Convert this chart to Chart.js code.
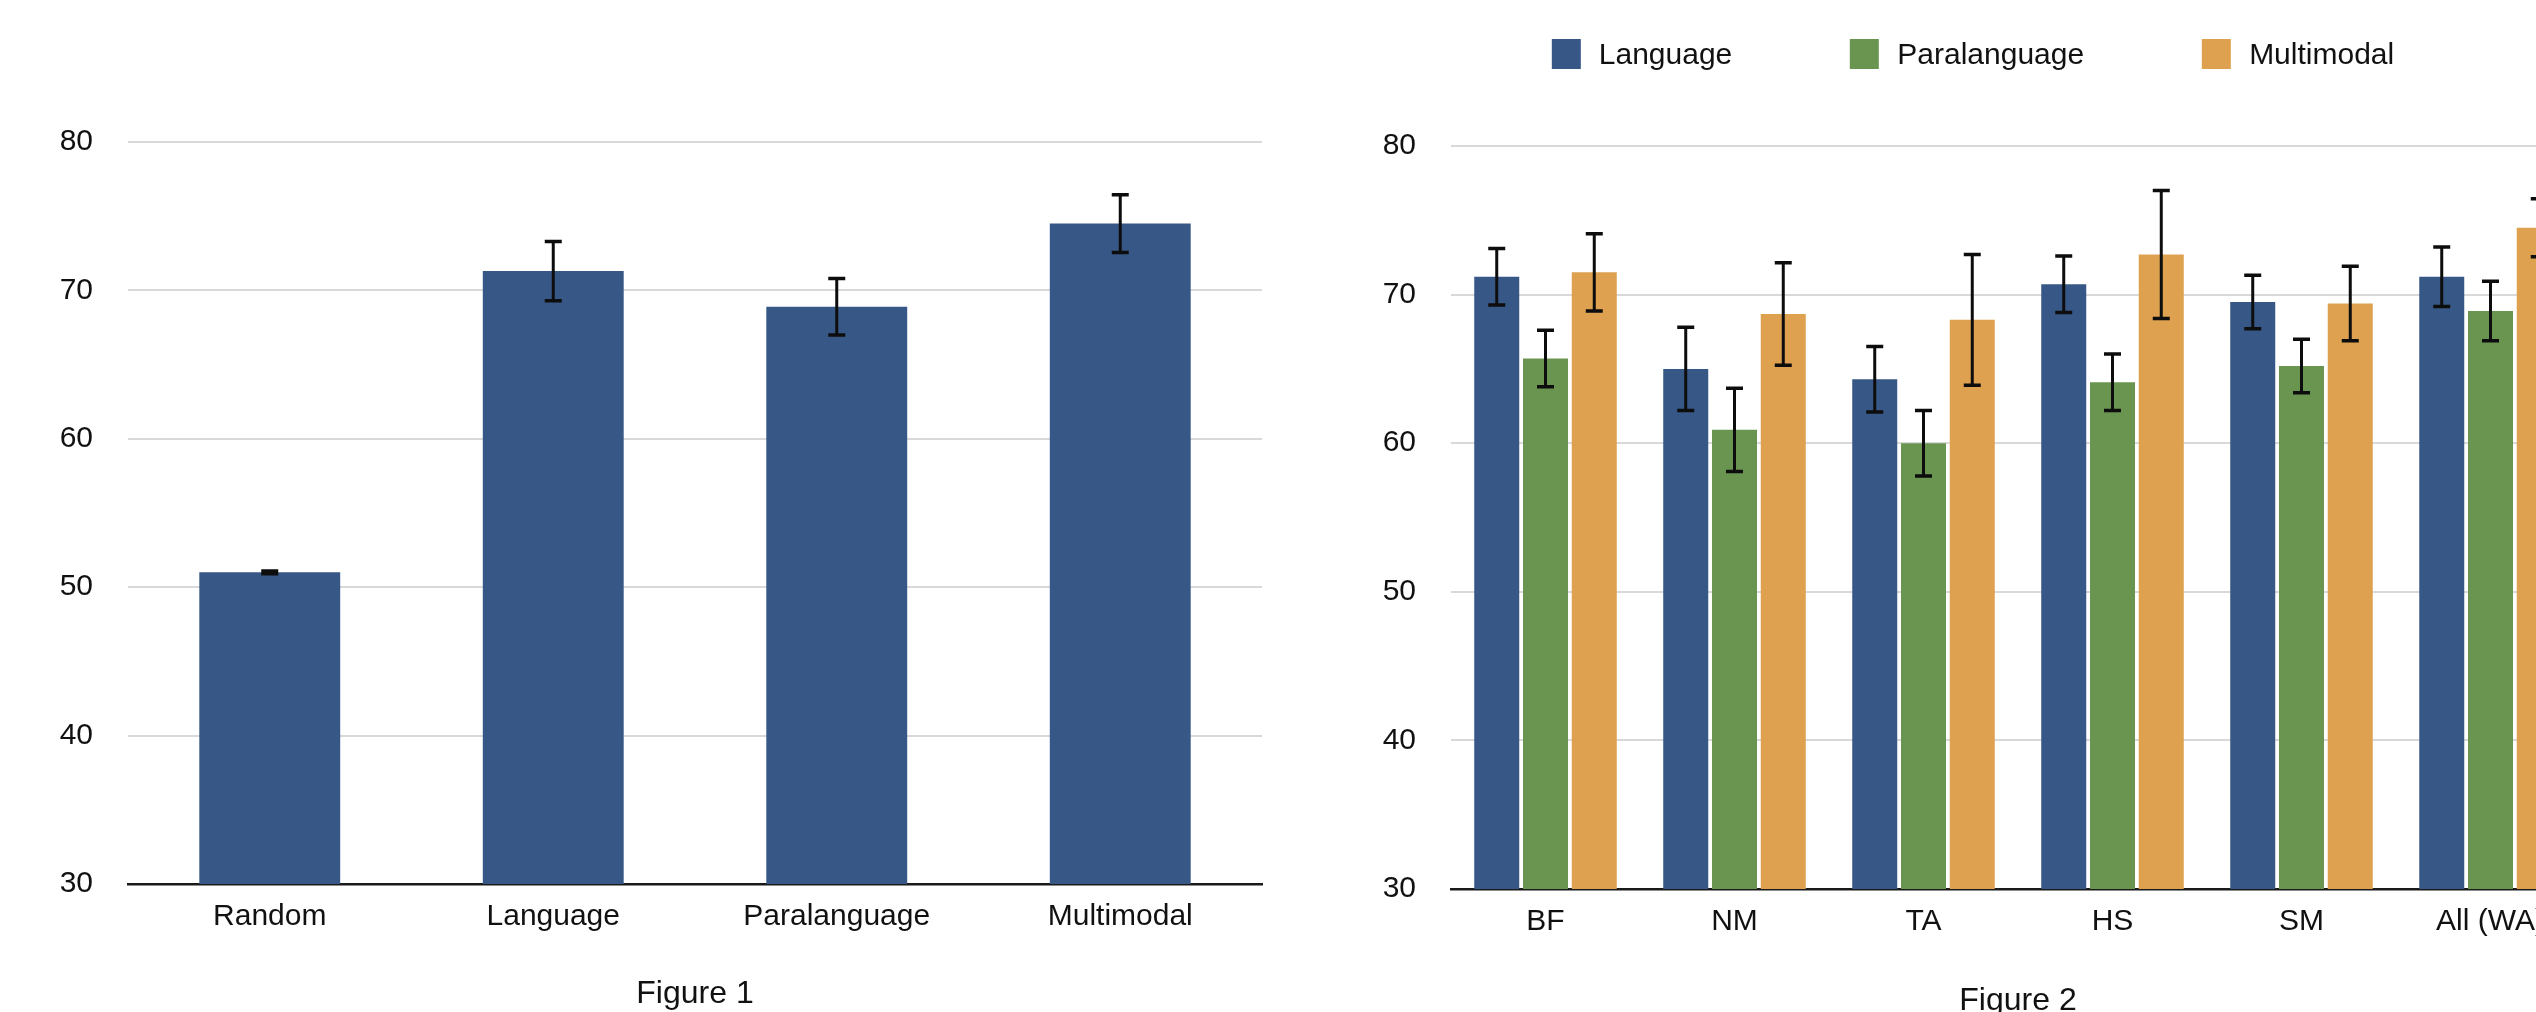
<!DOCTYPE html>
<html>
<head>
<meta charset="utf-8">
<title>Figures 1 and 2</title>
<script src="https://cdn.jsdelivr.net/npm/chart.js@4.4.1/dist/chart.umd.min.js"></script>
<style>
  html, body { margin: 0; padding: 0; background: #ffffff; }
  #page { position: relative; width: 2536px; height: 1012px; overflow: hidden; background: #ffffff; }
  #fig1 { position: absolute; left: 0; top: 0; }
  #fig2 { position: absolute; left: 1300px; top: 0; }
  #legend2 {
    position: absolute; top: 39px; left: 1973px; transform: translateX(-50%);
    display: flex; align-items: center; white-space: nowrap;
    font-family: "Liberation Sans", Arial, sans-serif; font-size: 30px; color: #111111;
  }
  #legend2 .item { display: flex; align-items: center; margin-right: 118px; }
  #legend2 .item:last-child { margin-right: 0; }
  #legend2 .swatch { width: 29px; height: 30px; margin-right: 18px; box-sizing: border-box; }
  #legend2 .label { line-height: 30px; }
</style>
</head>
<body>
<div id="page">
  <canvas id="fig1" width="1300" height="1012"></canvas>
  <canvas id="fig2" width="1285" height="1012"></canvas>
  <div id="legend2"></div>
</div>
<script>
// ---- Figure 1: overall accuracy per condition ----
const fig1Categories = ['Random', 'Language', 'Paralanguage', 'Multimodal'];
const fig1Values = [51.0, 71.3, 68.9, 74.5];
const fig1Errors = [0.1, 2.0, 1.9, 1.95];

// ---- Figure 2: accuracy per trait and modality ----
const fig2Categories = ['BF', 'NM', 'TA', 'HS', 'SM', 'All (WA)'];
const languageValues = [71.2, 65.0, 64.3, 70.7, 69.5, 71.2];
const languageErrors = [1.9, 2.8, 2.2, 1.9, 1.8, 2.0];
const paralanguageValues = [65.7, 60.9, 60.0, 64.1, 65.2, 68.9];
const paralanguageErrors = [1.9, 2.8, 2.2, 1.9, 1.8, 2.0];
const multimodalValues = [71.5, 68.7, 68.3, 72.7, 69.4, 74.5];
const multimodalErrors = [2.6, 3.45, 4.4, 4.3, 2.5, 1.95];

const yTicks = [30, 40, 50, 60, 70, 80];

const BLUE = 'rgb(55, 88, 134)';
const GREEN = 'rgb(106, 149, 80)';
const ORANGE = 'rgb(221, 161, 79)';

Chart.defaults.font.family = '"Liberation Sans", Arial, sans-serif';
Chart.defaults.color = '#111111';

// Draws mean ± error whiskers on top of every bar, using the chart's own y scale.
const errorBars = {
  id: 'errorBars',
  afterDatasetsDraw(chart, args, opts) {
    const ctx = chart.ctx;
    const y = chart.scales.y;
    chart.data.datasets.forEach((ds, i) => {
      const meta = chart.getDatasetMeta(i);
      if (meta.hidden || !ds.errors) return;
      meta.data.forEach((bar, j) => {
        const v = ds.data[j], e = ds.errors[j];
        const yTop = y.getPixelForValue(v + e);
        const yBot = y.getPixelForValue(v - e);
        const x = bar.x;
        const half = opts.capWidth / 2;
        ctx.save();
        ctx.strokeStyle = opts.color;
        ctx.lineCap = 'butt';
        ctx.lineWidth = opts.stemWidth;
        ctx.beginPath();
        ctx.moveTo(x, yTop);
        ctx.lineTo(x, yBot);
        ctx.stroke();
        ctx.lineWidth = opts.capThickness;
        ctx.beginPath();
        ctx.moveTo(x - half, yTop);
        ctx.lineTo(x + half, yTop);
        ctx.moveTo(x - half, yBot);
        ctx.lineTo(x + half, yBot);
        ctx.stroke();
        ctx.restore();
      });
    });
  }
};

// Builds the HTML legend for figure 2 from its datasets.
const htmlLegend = {
  id: 'htmlLegend',
  afterUpdate(chart, args, opts) {
    const box = document.getElementById(opts.containerID);
    if (!box) return;
    box.innerHTML = '';
    chart.data.datasets.forEach(ds => {
      const item = document.createElement('div');
      item.className = 'item';
      const sw = document.createElement('span');
      sw.className = 'swatch';
      sw.style.background = ds.backgroundColor;
      const lb = document.createElement('span');
      lb.className = 'label';
      lb.textContent = ds.label;
      item.appendChild(sw);
      item.appendChild(lb);
      box.appendChild(item);
    });
  }
};

function makeOptions(cfg) {
  return {
    responsive: false,
    animation: false,
    events: [],
    layout: { padding: { top: cfg.top, right: cfg.right, bottom: 0, left: 0 } },
    plugins: {
      legend: { display: false },
      tooltip: { enabled: false },
      title: { display: false },
      errorBars: { color: '#0d0d0d', stemWidth: 3, capThickness: 3.5, capWidth: 17 },
      htmlLegend: { containerID: cfg.legendID || null }
    },
    scales: {
      x: {
        grid: { display: false, drawTicks: false },
        border: { display: true, color: '#1a1a1a', width: 2.5 },
        ticks: { font: { size: 30 }, color: '#111111', padding: 15, maxRotation: 0, autoSkip: false },
        title: {
          display: true, text: cfg.title, color: '#111111',
          font: { size: 32 }, padding: { top: 0, bottom: cfg.titleBottom }
        },
        afterFit(scale) { scale.height = cfg.xHeight; }
      },
      y: {
        min: yTicks[0],
        max: yTicks[yTicks.length - 1],
        afterBuildTicks(scale) { scale.ticks = yTicks.map(v => ({ value: v })); },
        grid: { color: '#d9d9d9', lineWidth: 2, drawTicks: false },
        border: { display: false },
        ticks: { font: { size: 30 }, color: '#111111', padding: 35 },
        afterFit(scale) { scale.width = cfg.yWidth; }
      }
    }
  };
}

new Chart(document.getElementById('fig1'), {
  type: 'bar',
  data: {
    labels: fig1Categories,
    datasets: [{
      label: 'Accuracy',
      data: fig1Values,
      errors: fig1Errors,
      backgroundColor: BLUE,
      categoryPercentage: 1.0,
      barPercentage: 0.497
    }]
  },
  options: makeOptions({ top: 142, right: 38, yWidth: 128, xHeight: 128, title: 'Figure 1', titleBottom: -1 }),
  plugins: [errorBars]
});

new Chart(document.getElementById('fig2'), {
  type: 'bar',
  data: {
    labels: fig2Categories,
    datasets: [
      { label: 'Language', data: languageValues, errors: languageErrors, backgroundColor: BLUE,
        categoryPercentage: 0.774, barPercentage: 0.923 },
      { label: 'Paralanguage', data: paralanguageValues, errors: paralanguageErrors, backgroundColor: GREEN,
        categoryPercentage: 0.774, barPercentage: 0.923 },
      { label: 'Multimodal', data: multimodalValues, errors: multimodalErrors, backgroundColor: ORANGE,
        categoryPercentage: 0.774, barPercentage: 0.923 }
    ]
  },
  options: makeOptions({ top: 146, right: 0, yWidth: 151, xHeight: 123, title: 'Figure 2', titleBottom: -8, legendID: 'legend2' }),
  plugins: [errorBars, htmlLegend]
});
</script>
</body>
</html>
